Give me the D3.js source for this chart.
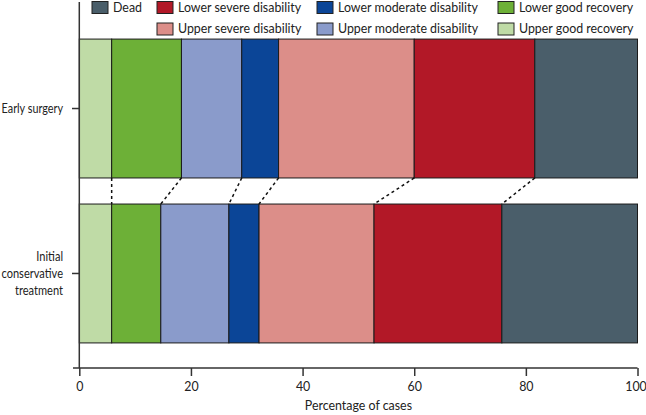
<!DOCTYPE html>
<html>
<head>
<meta charset="utf-8">
<script src="https://cdn.jsdelivr.net/npm/d3@7"></script>
<style>
  body { margin: 0; background: #fff; }
  text { font-family: Lato, "Open Sans", sans-serif; fill: #222; }
</style>
</head>
<body>
<script>
// outcome categories, in stacking order (left to right)
var categories = ["Upper good recovery", "Lower good recovery", "Upper moderate disability",
  "Lower moderate disability", "Upper severe disability", "Lower severe disability", "Dead"];
var colors = ["#bfdba6", "#6db037", "#8a9bcb", "#0b4597", "#dc8e89", "#b21827", "#4a5e6a"];

var groups = [["Early surgery"], ["Initial", "conservative", "treatment"]];
var earlySurgery = [5.8, 12.5, 10.8, 6.6, 24.3, 21.6, 18.4];
var conservative = [5.8, 8.8, 12.2, 5.4, 20.6, 22.9, 24.3];
var xTicks = [0, 20, 40, 60, 80, 100];

// legend layout: rows of category indices (null = empty slot)
var legendRows = [[6, 5, 3, 1], [null, 4, 2, 0]];
var legendX = [92, 157, 317, 498];

var width = 646, height = 415;
var fs = "12.4px";

var svg = d3.select("body").append("svg")
  .attr("width", width)
  .attr("height", height);

var x = d3.scaleLinear().domain([0, 100]).range([79.3, 637.5]);
var y = d3.scaleBand().domain([0, 1]).range([14, 368])
  .paddingInner(0.158).paddingOuter(0.152);

var series = [earlySurgery, conservative].map(function(vals) {
  var acc = 0;
  return vals.map(function(v, i) {
    var s = { x0: acc, x1: acc + v, i: i };
    acc += v;
    return s;
  });
});

// bars
series.forEach(function(segs, g) {
  svg.selectAll("rect.g" + g)
    .data(segs)
    .enter()
    .append("rect")
    .attr("class", "g" + g)
    .attr("x", function(d) { return x(d.x0); })
    .attr("y", y(g))
    .attr("width", function(d) { return x(d.x1) - x(d.x0); })
    .attr("height", y.bandwidth())
    .attr("fill", function(d) { return colors[d.i]; })
    .attr("stroke", "#1a1a1a")
    .attr("stroke-width", 1);
});

// dashed connectors between the two bars
svg.selectAll("line.link")
  .data(d3.range(0, 6))
  .enter()
  .append("line")
  .attr("class", "link")
  .attr("x1", function(i) { return x(series[0][i].x1); })
  .attr("y1", y(0) + y.bandwidth())
  .attr("x2", function(i) { return x(series[1][i].x1); })
  .attr("y2", y(1))
  .attr("stroke", "#111")
  .attr("stroke-width", 1.5)
  .attr("stroke-dasharray", "3,3");

// x axis
var xAxis = svg.append("g")
  .attr("transform", "translate(0,368)")
  .call(d3.axisBottom(x).tickValues(xTicks).tickSize(8).tickSizeOuter(0).tickPadding(6));
xAxis.select(".domain").attr("d", "M73,0H637.5").attr("stroke", "#333").attr("stroke-width", 1.5);
xAxis.selectAll(".tick line").attr("stroke", "#333").attr("stroke-width", 1.5);
xAxis.selectAll(".tick text").style("font-size", fs).style("font-family", "Lato, sans-serif").attr("fill", "#222");
xAxis.selectAll(".tick text").filter(function(d) { return d === 100; }).attr("dx", "-2px");

// y axis line and ticks
svg.append("line")
  .attr("x1", x(0)).attr("x2", x(0))
  .attr("y1", 2).attr("y2", 368)
  .attr("stroke", "#333").attr("stroke-width", 1.5);

svg.selectAll("line.ytick")
  .data([0, 1])
  .enter()
  .append("line")
  .attr("class", "ytick")
  .attr("x1", 72).attr("x2", x(0))
  .attr("y1", function(g) { return y(g) + y.bandwidth() / 2; })
  .attr("y2", function(g) { return y(g) + y.bandwidth() / 2; })
  .attr("stroke", "#333").attr("stroke-width", 1.5);

// group labels; the original face is narrow, so squeeze horizontally to fit left of the axis
svg.selectAll("text.ylab")
  .data(groups)
  .enter()
  .append("text")
  .attr("class", "ylab")
  .attr("text-anchor", "end")
  .style("font-size", fs)
  .each(function(lines) {
    d3.select(this).selectAll("tspan")
      .data(lines)
      .enter()
      .append("tspan")
      .attr("x", 0)
      .attr("y", function(d, k) { return k * 17; })
      .attr("dy", "0.35em")
      .text(function(d) { return d; });
  })
  .attr("transform", function(lines, g) {
    var cy = y(g) + y.bandwidth() / 2 - (lines.length - 1) * 17 / 2;
    var w = this.getBBox().width;
    var sx = Math.min(1, 62 / w);
    return "translate(63," + cy + ") scale(" + sx + ",1)";
  });

svg.append("text")
  .attr("x", (x(0) + x(100)) / 2)
  .attr("y", 410)
  .attr("text-anchor", "middle")
  .style("font-size", fs)
  .text("Percentage of cases");

// legend
legendRows.forEach(function(row, r) {
  row.forEach(function(ci, c) {
    if (ci === null) return;
    var g = svg.append("g").attr("transform", "translate(" + legendX[c] + "," + (7.5 + r * 21.5) + ")");
    g.append("rect")
      .attr("x", 0).attr("y", -6)
      .attr("width", 16).attr("height", 12)
      .attr("fill", colors[ci])
      .attr("stroke", "#222").attr("stroke-width", 1);
    g.append("text")
      .attr("x", 21).attr("y", 0).attr("dy", "0.35em")
      .style("font-size", "12.4px")
      .text(categories[ci]);
  });
});
</script>
</body>
</html>
